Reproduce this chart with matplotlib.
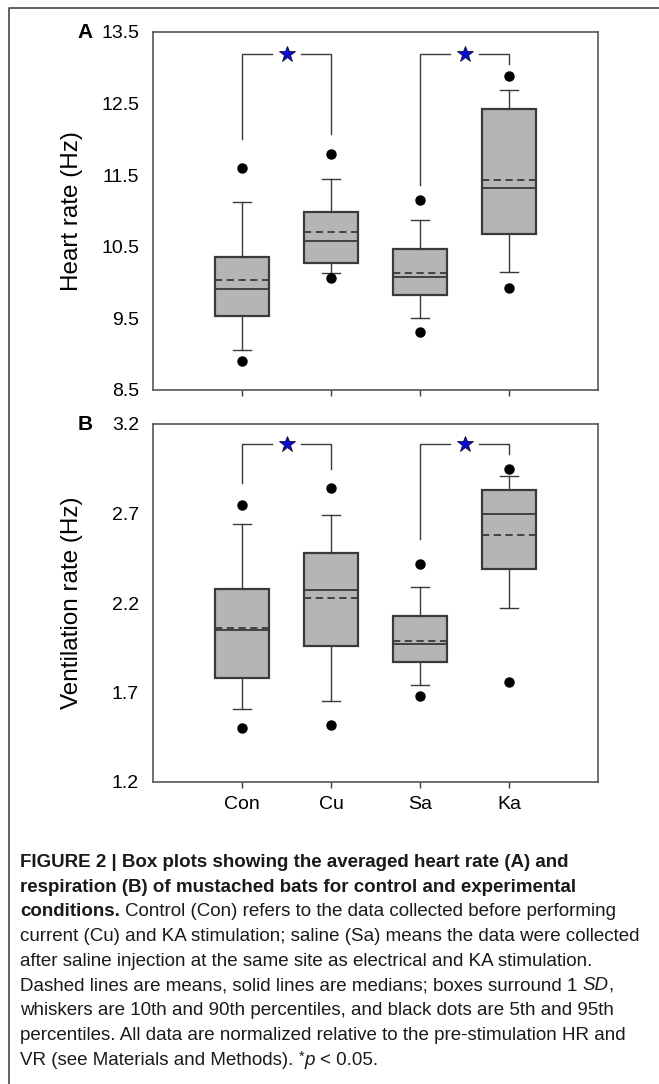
import matplotlib
matplotlib.use("Agg")
import matplotlib.pyplot as plt
from matplotlib.lines import Line2D

plt.rcParams['font.family'] = ['Liberation Sans', 'DejaVu Sans']

groups = ['Con', 'Cu', 'Sa', 'Ka']

# heart rate (Hz): 5th, 10th pct, mean-SD, median, mean, mean+SD, 90th, 95th pct
hr_p5 = [8.91, 10.07, 9.31, 9.93]
hr_p10 = [9.06, 10.13, 9.50, 10.15]
hr_sd_lo = [9.54, 10.28, 9.82, 10.68]
hr_median = [9.91, 10.58, 10.08, 11.32]
hr_mean = [10.03, 10.70, 10.14, 11.43]
hr_sd_hi = [10.36, 10.99, 10.47, 12.42]
hr_p90 = [11.13, 11.44, 10.88, 12.69]
hr_p95 = [11.60, 11.80, 11.15, 12.88]

# ventilation rate (Hz)
vr_p5 = [1.50, 1.52, 1.68, 1.76]
vr_p10 = [1.61, 1.65, 1.74, 2.17]
vr_sd_lo = [1.78, 1.96, 1.87, 2.39]
vr_median = [2.05, 2.27, 1.97, 2.70]
vr_mean = [2.06, 2.23, 1.99, 2.58]
vr_sd_hi = [2.28, 2.48, 2.13, 2.83]
vr_p90 = [2.64, 2.69, 2.29, 2.91]
vr_p95 = [2.75, 2.84, 2.42, 2.95]

hr_ticks = [8.5, 9.5, 10.5, 11.5, 12.5, 13.5]
vr_ticks = [1.2, 1.7, 2.2, 2.7, 3.2]

# significance brackets: compared pairs, bracket height, leg ends
sig_pairs = [(0, 1), (2, 3)]
hr_bracket_top = 13.19
hr_leg_ends = [12.00, 12.07, 11.37, 13.06]
vr_bracket_top = 3.09
vr_leg_ends = [2.87, 2.95, 2.56, 3.03]

DARK = '#3a3a3a'


def box_stats(lo5, lo10, q1, med, mean, q3, hi90, hi95):
    stats = []
    for i, g in enumerate(groups):
        stats.append(dict(label=g, whislo=lo10[i], q1=q1[i], med=med[i],
                          mean=mean[i], q3=q3[i], whishi=hi90[i],
                          fliers=[lo5[i], hi95[i]]))
    return stats


def draw_panel(ax, stats, ticks, ylabel, top, legs, show_names):
    pos = list(range(1, len(groups) + 1))
    ax.bxp(stats, positions=pos, widths=0.6, capwidths=0.2,
           patch_artist=True, showmeans=True, meanline=True,
           boxprops=dict(facecolor='#b5b5b5', edgecolor=DARK, linewidth=1.6),
           medianprops=dict(color=DARK, linewidth=1.3),
           meanprops=dict(color=DARK, linewidth=1.3, linestyle=(0, (4, 2.5))),
           whiskerprops=dict(color=DARK, linewidth=1.0),
           capprops=dict(color=DARK, linewidth=1.0),
           flierprops=dict(marker='o', markerfacecolor='black',
                           markeredgecolor='black', markersize=6.5))
    for a, b in sig_pairs:
        xa, xb = pos[a], pos[b]
        mid = (xa + xb) / 2
        ax.plot([xa, xa, mid - 0.16], [legs[a], top, top], color=DARK, lw=1.0)
        ax.plot([mid + 0.16, xb, xb], [top, top, legs[b]], color=DARK, lw=1.0)
        ax.plot(mid, top, marker='*', markersize=12, color='#0a0ad0',
                markeredgecolor='#101040', markeredgewidth=0.6)
    ax.set_xlim(0, 5)
    ax.set_ylim(ticks[0], ticks[-1])
    ax.set_yticks(ticks)
    ax.set_yticklabels([f'{t:.1f}' for t in ticks])
    ax.set_xticks(pos)
    ax.set_xticklabels(groups if show_names else [])
    ax.tick_params(axis='both', direction='out', length=4, width=1.0,
                   color=DARK, labelsize=14, pad=6)
    ax.tick_params(axis='y', length=0, pad=10)
    for s in ax.spines.values():
        s.set_color('#555555')
        s.set_linewidth(1.2)
    ax.set_ylabel(ylabel, fontsize=17.5)
    ax.yaxis.set_label_coords(-0.157, 0.5)


fig = plt.figure(figsize=(6.59, 10.84), dpi=100)
ax_a = fig.add_axes([153 / 659, 1 - 390 / 1084, 445 / 659, 358 / 1084])
ax_b = fig.add_axes([153 / 659, 1 - 782 / 1084, 445 / 659, 358 / 1084])

draw_panel(ax_a, box_stats(hr_p5, hr_p10, hr_sd_lo, hr_median, hr_mean,
                           hr_sd_hi, hr_p90, hr_p95),
           hr_ticks, 'Heart rate (Hz)', hr_bracket_top, hr_leg_ends, False)
draw_panel(ax_b, box_stats(vr_p5, vr_p10, vr_sd_lo, vr_median, vr_mean,
                           vr_sd_hi, vr_p90, vr_p95),
           vr_ticks, 'Ventilation rate (Hz)', vr_bracket_top, vr_leg_ends, True)

fig.text(85 / 659, 1 - 33 / 1084, 'A', fontsize=15, fontweight='bold',
         ha='center', va='center')
fig.text(85 / 659, 1 - 425 / 1084, 'B', fontsize=15, fontweight='bold',
         ha='center', va='center')

# page frame (top and left edges)
fig.add_artist(Line2D([9 / 659, 9 / 659, 1], [0, 1 - 8 / 1084, 1 - 8 / 1084],
                      transform=fig.transFigure, color='#555555', lw=1.3))

# caption, written run by run so bold / italic parts can share a line
cap_font = ['Liberation Sans', 'DejaVu Sans']
cap_size = 13.5
caption = [
    [("FIGURE 2 | Box plots showing the averaged heart rate (A) and", 'bold', 'normal')],
    [("respiration (B) of mustached bats for control and experimental", 'bold', 'normal')],
    [("conditions.", 'bold', 'normal'),
     (" Control (Con) refers to the data collected before performing", 'normal', 'normal')],
    [("current (Cu) and KA stimulation; saline (Sa) means the data were collected", 'normal', 'normal')],
    [("after saline injection at the same site as electrical and KA stimulation.", 'normal', 'normal')],
    [("Dashed lines are means, solid lines are medians; boxes surround 1", 'normal', 'normal'),
     (" SD", 'normal', 'italic'), (",", 'normal', 'normal')],
    [("whiskers are 10th and 90th percentiles, and black dots are 5th and 95th", 'normal', 'normal')],
    [("percentiles. All data are normalized relative to the pre-stimulation HR and", 'normal', 'normal')],
    [("VR (see Materials and Methods).", 'normal', 'normal'), (" *", 'normal', 'sup'),
     ("p", 'normal', 'italic'), (" < 0.05.", 'normal', 'normal')],
]

renderer = fig.canvas.get_renderer()


def text_width(s, **kw):
    t = fig.text(0, 0, s, fontsize=cap_size, family=cap_font, **kw)
    w = t.get_window_extent(renderer).width
    t.remove()
    return w


space_w = text_width('n n') - text_width('nn')
x0 = 20
y0 = 867
line_step = 24.7
for k, runs in enumerate(caption):
    x = x0
    y = y0 + k * line_step
    for s, weight, style in runs:
        if s.startswith(' '):
            x += space_w
            s = s[1:]
        dy = 0
        size = cap_size
        if style == 'sup':
            style = 'normal'
            size = cap_size * 0.75
            dy = -4
        t = fig.text(x / 659, 1 - (y + dy) / 1084, s, fontsize=size,
                     family=cap_font, fontweight=weight, fontstyle=style,
                     ha='left', va='baseline', color='#1a1a1a')
        x += t.get_window_extent(renderer).width

fig.savefig('out.png', dpi=100)
